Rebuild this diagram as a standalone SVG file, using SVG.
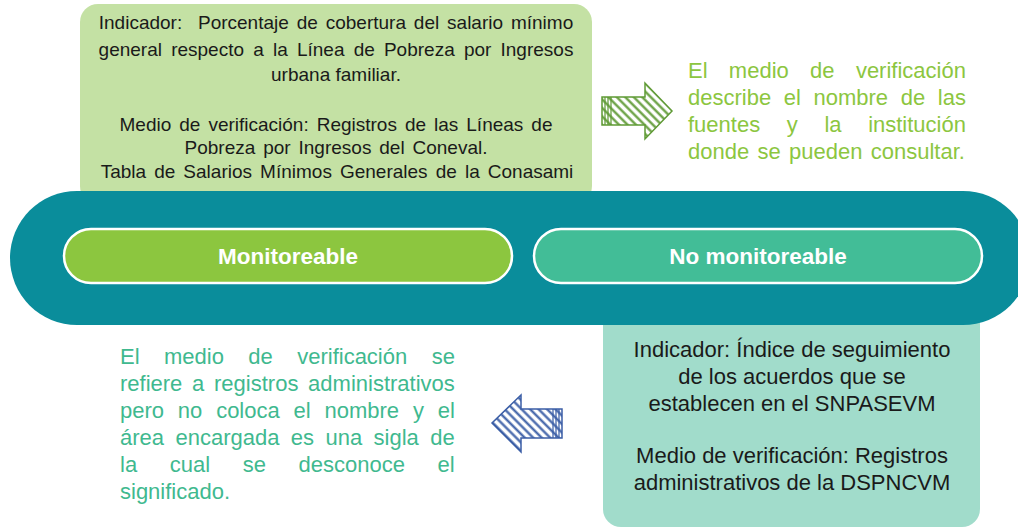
<svg xmlns="http://www.w3.org/2000/svg" width="1018" height="529" viewBox="0 0 1018 529">
<style>
.t{font-family:"Liberation Sans",Arial,sans-serif;}
.box{font-size:19px;fill:#1a1a1a;text-anchor:middle;}
.boxb{font-size:22px;fill:#1a1a1a;text-anchor:middle;}
.note{font-size:22px;}
.pill{font-size:22.5px;font-weight:bold;fill:#ffffff;text-anchor:middle;}
</style>
<defs>
<pattern id="hg" patternUnits="userSpaceOnUse" width="6" height="6" patternTransform="rotate(-45)">
<rect width="6" height="6" fill="#ffffff"/>
<line x1="1.5" y1="0" x2="1.5" y2="6" stroke="#5f9a35" stroke-width="2.2"/>
</pattern>
<pattern id="hb" patternUnits="userSpaceOnUse" width="6" height="6" patternTransform="rotate(-45)">
<rect width="6" height="6" fill="#ffffff"/>
<line x1="1.5" y1="0" x2="1.5" y2="6" stroke="#3b5ea6" stroke-width="2.2"/>
</pattern>
</defs>
<g id="box-top">
<rect x="80" y="4" width="512" height="200" rx="18" fill="#c4e1a4"/>
<text class="t box" x="336" y="29" word-spacing="2.6">Indicador:&#160; Porcentaje de cobertura del salario mínimo</text>
<text class="t box" x="336" y="56" word-spacing="3.9">general respecto a la Línea de Pobreza por Ingresos</text>
<text class="t box" x="336" y="81">urbana familiar.</text>
<text class="t box" x="336" y="131" word-spacing="2.7">Medio de verificación: Registros de las Líneas de</text>
<text class="t box" x="336" y="154" word-spacing="2.6">Pobreza por Ingresos del Coneval.</text>
<text class="t box" x="337" y="178" word-spacing="2.8">Tabla de Salarios Mínimos Generales de la Conasami</text>
</g>
<g id="box-bottom">
<rect x="603" y="300" width="377" height="227" rx="18" fill="#a1dccb"/>
<text class="t boxb" x="792" y="357">Indicador: Índice de seguimiento</text>
<text class="t boxb" x="792" y="384">de los acuerdos que se</text>
<text class="t boxb" x="792" y="411">establecen en el SNPASEVM</text>
<text class="t boxb" x="792" y="463">Medio de verificación: Registros</text>
<text class="t boxb" x="792" y="490">administrativos de la DSPNCVM</text>
</g>
<g id="band">
<rect x="10" y="191" width="1020" height="134" rx="67" fill="#0a8d9b"/>
</g>
<g id="pill-monitoreable">
<rect x="64" y="229" width="448" height="54" rx="27" fill="#8cc63f" stroke="#ffffff" stroke-width="2.5"/>
<text class="t pill" x="288" y="264">Monitoreable</text>
</g>
<g id="pill-no-monitoreable">
<rect x="534" y="229" width="448" height="54" rx="27" fill="#42bd97" stroke="#ffffff" stroke-width="2.5"/>
<text class="t pill" x="758" y="264">No monitoreable</text>
</g>
<g id="note-right" class="t note" fill="#8cc63f">
<text x="688" y="78" word-spacing="15.2">El medio de verificación</text>
<text x="688" y="105" word-spacing="6.5">describe el nombre de las</text>
<text x="688" y="132" word-spacing="20.5">fuentes y la institución</text>
<text x="688" y="159" word-spacing="2.2">donde se pueden consultar.</text>
</g>
<g id="note-left" class="t note" fill="#3fb98f">
<text x="120" y="364" word-spacing="18.3">El medio de verificación se</text>
<text x="120" y="391" word-spacing="3.6">refiere a registros administrativos</text>
<text x="120" y="418" word-spacing="7.7">pero no coloca el nombre y el</text>
<text x="120" y="445" word-spacing="5.3">área encargada es una sigla de</text>
<text x="120" y="472" word-spacing="26.5">la cual se desconoce el</text>
<text x="120" y="499">significado.</text>
</g>
<g id="connectors">
<g id="arrow-right">
<path d="M602,97 L645,97 L645,83 L672,111 L645,139 L645,125 L602,125 Z" fill="url(#hg)" stroke="#5f9a35" stroke-width="1.5"/>
<path d="M605,97 V125 M608,97 V125 M611,97 V125" stroke="#5f9a35" stroke-width="1.2"/>
</g>
<g id="arrow-left">
<path d="M562,409 L521,409 L521,395 L492,423 L521,452 L521,438 L562,438 Z" fill="url(#hb)" stroke="#3b5ea6" stroke-width="1.5"/>
<path d="M553,409 V438 M556,409 V438 M559,409 V438" stroke="#3b5ea6" stroke-width="1.2"/>
</g>
</g>
</svg>
